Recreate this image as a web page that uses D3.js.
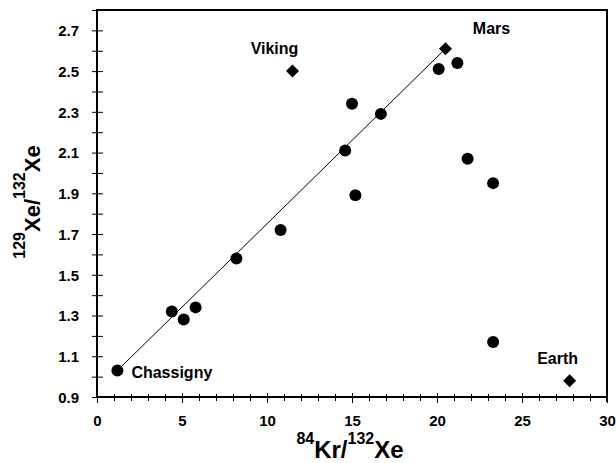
<!DOCTYPE html>
<html>
<head>
<meta charset="utf-8">
<script src="https://cdn.jsdelivr.net/npm/d3@7"></script>
<style>
  body { margin: 0; background: #fff; }
  svg { display: block; font-family: "Liberation Sans", Arial, sans-serif; }
</style>
</head>
<body>
<svg id="chart" width="616" height="463"></svg>
<script>
// meteorite / sample points (filled circles)
const krXe = [1.2, 4.4, 5.1, 5.8, 8.2, 10.8, 14.6, 15.0, 15.2, 16.7, 20.1, 21.2, 21.8, 23.3, 23.3];
const xeXe = [1.03, 1.32, 1.28, 1.34, 1.58, 1.72, 2.11, 2.34, 1.89, 2.29, 2.51, 2.54, 2.07, 1.95, 1.17];

// reference reservoirs (diamonds)
const refNames = ["Viking", "Mars", "Earth"];
const refKrXe = [11.5, 20.5, 27.8];
const refXeXe = [2.50, 2.61, 0.98];

// mixing line, Chassigny -> Mars
const lineKrXe = [1.2, 20.5];
const lineXeXe = [1.03, 2.61];

const xTickLabels = [0, 5, 10, 15, 20, 25, 30];
const yTickLabels = [0.9, 1.1, 1.3, 1.5, 1.7, 1.9, 2.1, 2.3, 2.5, 2.7];

const svg = d3.select("#chart");
const mLeft = 97, mRight = 607, mTop = 10, mBottom = 397;

const x = d3.scaleLinear().domain([0, 30]).range([mLeft, mRight]);
const y = d3.scaleLinear().domain([0.9, 2.8]).range([mBottom, mTop]);

// frame
svg.append("line").attr("x1", mLeft).attr("x2", mRight).attr("y1", mTop).attr("y2", mTop)
  .attr("stroke", "#000").attr("stroke-width", 2);
svg.append("line").attr("x1", mRight).attr("x2", mRight).attr("y1", mTop - 1).attr("y2", mBottom + 5)
  .attr("stroke", "#000").attr("stroke-width", 2);

// x axis
const xMinor = d3.range(0, 31, 1);
const xAxis = svg.append("g").attr("transform", `translate(0,${mBottom})`)
  .call(d3.axisBottom(x).tickValues(xMinor).tickSize(0).tickFormat(""));
xAxis.select(".domain").attr("stroke-width", 2).attr("d", `M${mLeft},0H${mRight}`);
xAxis.selectAll(".tick line")
  .attr("y1", d => d % 5 === 0 ? -4 : -3)
  .attr("y2", d => d % 5 === 0 ? 6 : 4)
  .attr("stroke-width", 1);
xAxis.selectAll(".tick").filter(d => xTickLabels.includes(d)).select("text")
  .text(d => d)
  .attr("y", 29).attr("dy", null)
  .attr("font-size", 15).attr("font-weight", "bold").attr("fill", "#000")
  .attr("font-family", "Liberation Sans, Arial, sans-serif");

// y axis
const yMinor = d3.range(9, 29, 1).map(d => d / 10);
const yAxis = svg.append("g").attr("transform", `translate(${mLeft},0)`)
  .call(d3.axisLeft(y).tickValues(yMinor).tickSize(0).tickFormat(""));
yAxis.select(".domain").attr("stroke-width", 2).attr("d", `M0,${mTop - 1}V${mBottom}`);
yAxis.selectAll(".tick line").attr("x1", -5).attr("x2", 6).attr("stroke-width", 1);
yAxis.selectAll(".tick").filter(d => yTickLabels.some(v => Math.abs(v - d) < 1e-6)).select("text")
  .text(d => d3.format(".1f")(d))
  .attr("x", -18).attr("dy", "0.35em")
  .attr("font-size", 15).attr("font-weight", "bold").attr("fill", "#000")
  .attr("font-family", "Liberation Sans, Arial, sans-serif");

// regression line
svg.append("path")
  .datum(lineKrXe.map((v, i) => [v, lineXeXe[i]]))
  .attr("d", d3.line().x(d => x(d[0])).y(d => y(d[1])))
  .attr("fill", "none").attr("stroke", "#000").attr("stroke-width", 1);

// circles
svg.append("g").selectAll("circle")
  .data(krXe.map((v, i) => [v, xeXe[i]]))
  .join("circle")
  .attr("cx", d => x(d[0])).attr("cy", d => y(d[1]))
  .attr("r", 6).attr("fill", "#000");

// diamonds
const refs = refNames.map((n, i) => ({ name: n, kr: refKrXe[i], xe: refXeXe[i] }));
svg.append("g").selectAll("path")
  .data(refs)
  .join("path")
  .attr("transform", d => `translate(${x(d.kr)},${y(d.xe)})`)
  .attr("d", "M0,-6.5L6.5,0L0,6.5L-6.5,0Z")
  .attr("fill", "#000");

// point labels
const labelOffset = {
  Viking: [-18, -17, "middle"],
  Mars: [46, -15, "middle"],
  Earth: [-12, -17, "middle"]
};
svg.append("g").selectAll("text")
  .data(refs)
  .join("text")
  .attr("x", d => x(d.kr) + labelOffset[d.name][0])
  .attr("y", d => y(d.xe) + labelOffset[d.name][1])
  .attr("text-anchor", d => labelOffset[d.name][2])
  .attr("font-size", 16).attr("font-weight", "bold")
  .text(d => d.name);

svg.append("text")
  .attr("x", x(krXe[0]) + 14).attr("y", y(xeXe[0]) + 7)
  .attr("font-size", 16).attr("font-weight", "bold")
  .text("Chassigny");

// axis titles
const xt = svg.append("text")
  .attr("x", 350).attr("y", 458)
  .attr("text-anchor", "middle").attr("font-weight", "bold").attr("font-size", 24);
xt.append("tspan").attr("font-size", 16).attr("dy", -14).text("84");
xt.append("tspan").attr("dy", 14).text("Kr/");
xt.append("tspan").attr("font-size", 16).attr("dy", -14).text("132");
xt.append("tspan").attr("dy", 14).text("Xe");

const yt = svg.append("text")
  .attr("transform", "translate(40,202) rotate(-90)")
  .attr("text-anchor", "middle").attr("font-weight", "bold").attr("font-size", 22);
yt.append("tspan").attr("font-size", 16).attr("dy", -15).text("129");
yt.append("tspan").attr("dy", 15).text("Xe/");
yt.append("tspan").attr("font-size", 16).attr("dy", -15).text("132");
yt.append("tspan").attr("dy", 15).text("Xe");
</script>
</body>
</html>
